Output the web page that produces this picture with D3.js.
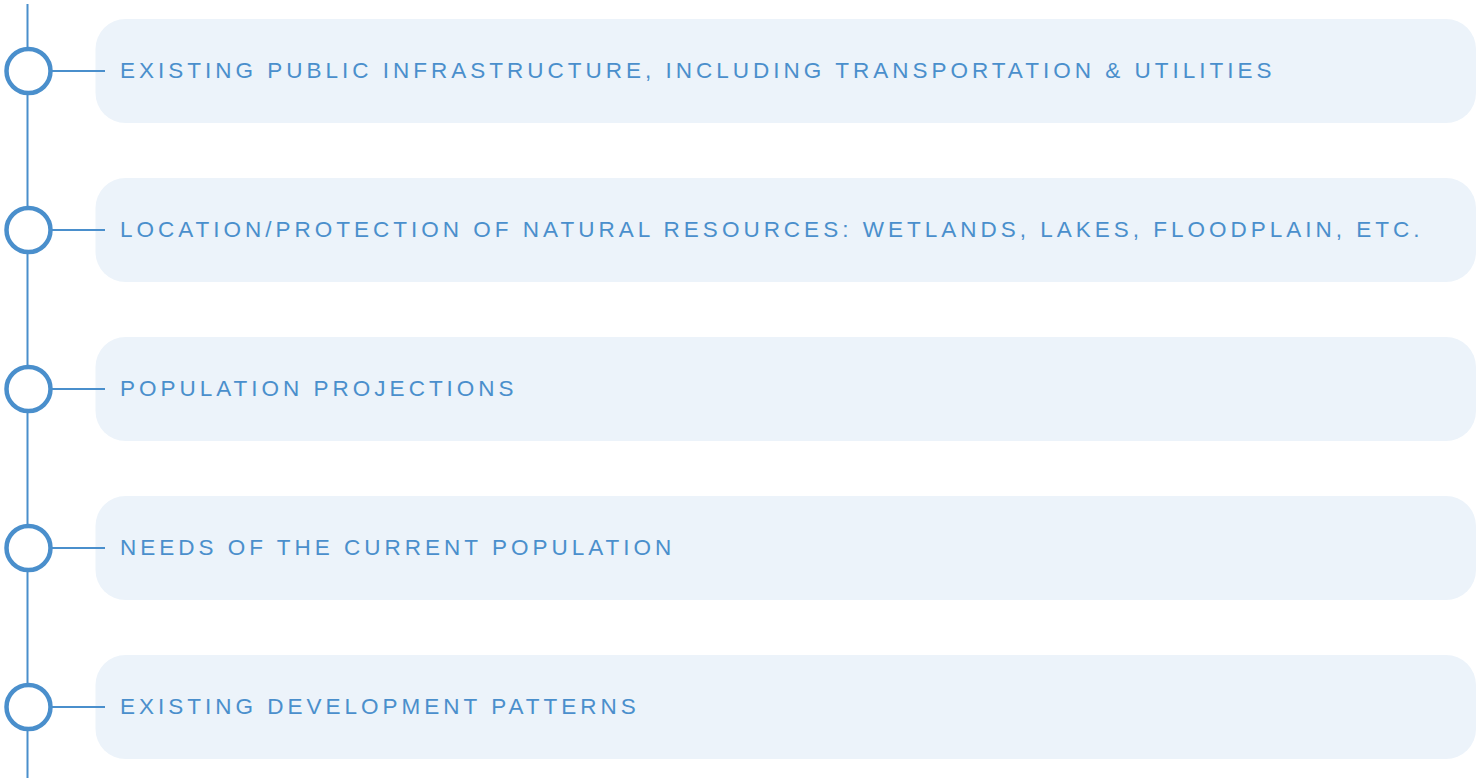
<!DOCTYPE html>
<html>
<head>
<meta charset="utf-8">
<script src="https://cdn.jsdelivr.net/npm/d3@7"></script>
<style>
  body { margin: 0; background: #fff; }
  svg { display: block; }
</style>
</head>
<body>
<div id="chart"></div>
<script>
var items = [
  "EXISTING PUBLIC INFRASTRUCTURE, INCLUDING TRANSPORTATION & UTILITIES",
  "LOCATION/PROTECTION OF NATURAL RESOURCES: WETLANDS, LAKES, FLOODPLAIN, ETC.",
  "POPULATION PROJECTIONS",
  "NEEDS OF THE CURRENT POPULATION",
  "EXISTING DEVELOPMENT PATTERNS"
];

var svgWidth = 1480;
var svgHeight = 778;
var accent = "#4a8fcc";

var svg = d3.select("#chart")
  .append("svg")
  .attr("width", svgWidth)
  .attr("height", svgHeight);

// rows: box top positions spread over the page
var boxH = 104;
var y = d3.scalePoint()
  .domain(d3.range(items.length))
  .range([19, 655]);

var lineX = 27.5;

svg.append("line")
  .attr("x1", lineX).attr("x2", lineX)
  .attr("y1", 4).attr("y2", svgHeight)
  .attr("stroke", accent)
  .attr("stroke-width", 2);

var rows = svg.selectAll("g.row")
  .data(items)
  .enter()
  .append("g")
  .attr("class", "row")
  .attr("transform", (d, i) => `translate(0, ${y(i)})`);

rows.append("rect")
  .attr("x", 95.5)
  .attr("y", 0)
  .attr("width", 1476 - 95.5)
  .attr("height", boxH)
  .attr("rx", 30)
  .attr("fill", "#ecf3fa");

rows.append("line")
  .attr("x1", 50).attr("x2", 105)
  .attr("y1", boxH / 2).attr("y2", boxH / 2)
  .attr("stroke", accent)
  .attr("stroke-width", 2);

rows.append("circle")
  .attr("cx", 28.5)
  .attr("cy", boxH / 2)
  .attr("r", 22)
  .attr("fill", "#fff")
  .attr("stroke", accent)
  .attr("stroke-width", 4.5);

rows.append("text")
  .attr("x", 120)
  .attr("y", boxH / 2 + 7)
  .attr("font-family", "Liberation Sans, Arial, sans-serif")
  .attr("font-size", 22.5)
  .attr("letter-spacing", 4)
  .attr("fill", accent)
  .text(d => d);
</script>
</body>
</html>
